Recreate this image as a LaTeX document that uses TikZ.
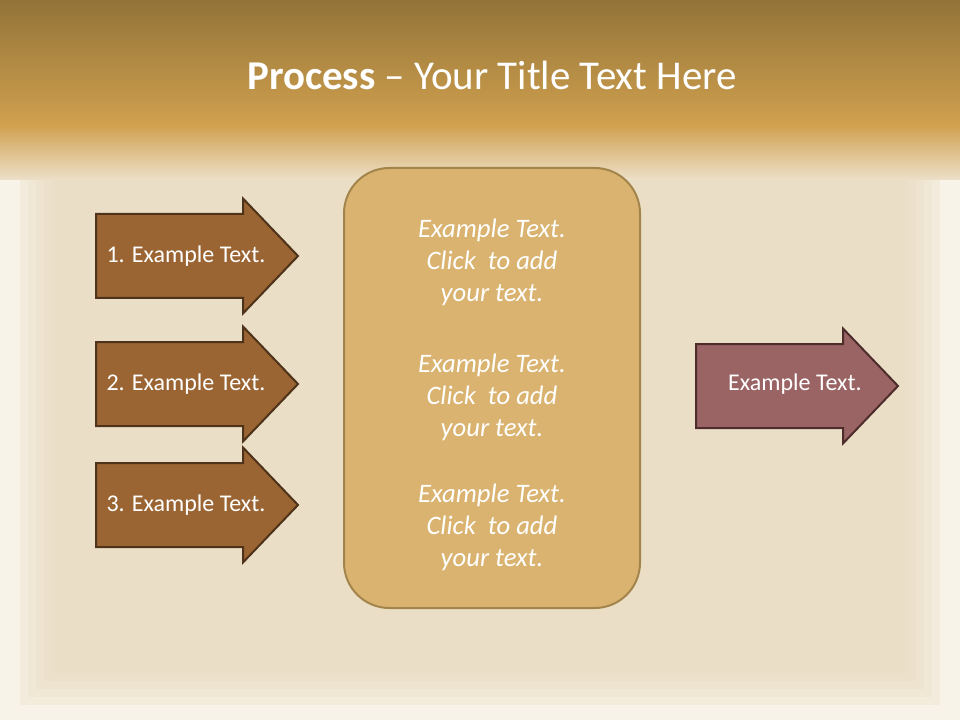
\documentclass[tikz,border=0pt]{standalone}
\usepackage{fontspec}
\setmainfont{Carlito}
\usepackage{xcolor}
\usetikzlibrary{positioning}

\definecolor{bandtop}{HTML}{927338}
\definecolor{bandlow}{HTML}{D1A14F}
\definecolor{paper}{HTML}{F8F3E8}
\definecolor{paperin}{HTML}{EADCC3}
\definecolor{stepfill}{HTML}{9A6533}
\definecolor{stepline}{HTML}{4E3219}
\definecolor{outfill}{HTML}{9A6464}
\definecolor{outline}{HTML}{4E2C2C}
\definecolor{boxfill}{HTML}{D9B36F}
\definecolor{boxline}{HTML}{A3844A}

\tikzset{
  steptext/.style={text=white, font=\fontsize{18}{22}\selectfont},
  boxtext/.style={text=white, align=center, font=\fontsize{20}{24}\selectfont\itshape},
}

% arrow outline: left end x, centre y
\newcommand{\steparrow}[3]{%
  \draw[#3, line width=1.5pt] (#1, #2-42) -- ++(147, 0) -- ++(0, -15.5)
    -- (#1+202, #2) -- (#1+147, #2+57.5) -- ++(0, -15.5) -- (#1, #2+42) -- cycle;}

\begin{document}
\begin{tikzpicture}[x=0.75pt, y=-0.75pt]
        \useasboundingbox (0, 0) rectangle (960, 720);

        % background
        \fill[paper] (0, 0) rectangle (960, 720);
        \foreach \d in {0, 8, 16, 24, 32}
          \fill[paperin, opacity=0.3] (20+\d, 130+\d) rectangle (940-\d, 705-\d);
        \shade[top color=bandtop, bottom color=bandlow] (0, 0) rectangle (960, 126);
        \shade[top color=bandlow, bottom color=paperin!83!paper] (0, 125) rectangle (960, 180);

        \node (title) at (492, 75) {\fontsize{30.7}{36}\selectfont\color{white}\textbf{Process} -- Your Title Text Here};

        % left steps
        \steparrow{96}{256}{fill=stepfill, draw=stepline}
        \steparrow{96}{384}{fill=stepfill, draw=stepline}
        \steparrow{96}{505}{fill=stepfill, draw=stepline}

        \node[steptext] (step1) at (186, 256) {1. Example Text.};
        \node[steptext] (step2) at (186, 384) {2. Example Text.};
        \node[steptext] (step3) at (186, 505) {3. Example Text.};

        % middle box
        \filldraw[fill=boxfill, draw=boxline, line width=1.5pt, rounded corners=34pt]
            (344, 168) rectangle (640, 608);

        \node[boxtext] (text1) at (492, 262) {Example Text.\\Click~ to add\\your text.};
        \node[boxtext] (text2) at (492, 397) {Example Text.\\Click~ to add\\your text.};
        \node[boxtext] (text3) at (492, 527) {Example Text.\\Click~ to add\\your text.};

        % result
        \steparrow{696}{386}{fill=outfill, draw=outline}
        \node[steptext] (result) at (795, 384) {Example Text.};
    \end{tikzpicture}
\end{document}
